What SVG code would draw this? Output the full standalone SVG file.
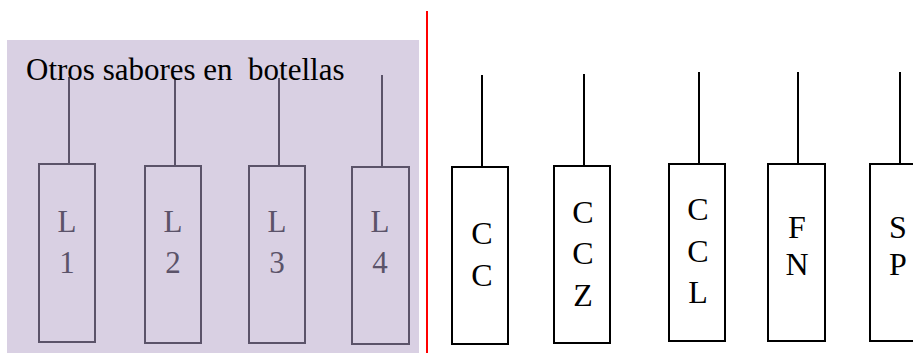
<svg xmlns="http://www.w3.org/2000/svg" width="913" height="353" viewBox="0 0 913 353">
<style>
.bg{fill:#d9d0e3;stroke:none}
.lbox{fill:none;stroke:#5b5369;stroke-width:2}
.rbox{fill:#ffffff;stroke:#000000;stroke-width:2}
.lline{stroke:#5b5369;stroke-width:2;fill:none}
.rline{stroke:#000000;stroke-width:2;fill:none}
.lt{font-family:"Liberation Serif","Times New Roman",serif;font-size:31px;fill:#5b5369;text-anchor:middle}
.rt{font-family:"Liberation Serif","Times New Roman",serif;font-size:32px;fill:#000000;text-anchor:middle}
.title{font-family:"Liberation Serif","Times New Roman",serif;font-size:31px;fill:#000000;white-space:pre}
</style>
<rect width="913" height="353" fill="#ffffff"/>
<rect id="panel" class="bg" x="7" y="40" width="412" height="313"/>
<line id="divider" x1="427" y1="11" x2="427" y2="353" stroke="#ff0000" stroke-width="2"/>
<g id="connectors">
<line class="lline" x1="69" y1="77" x2="69" y2="164"/>
<line class="lline" x1="175" y1="78" x2="175" y2="166"/>
<line class="lline" x1="279" y1="78" x2="279" y2="166"/>
<line class="lline" x1="382" y1="75" x2="382" y2="167"/>
<line class="rline" x1="482" y1="75" x2="482" y2="167"/>
<line class="rline" x1="584" y1="74" x2="584" y2="166"/>
<line class="rline" x1="699" y1="72" x2="699" y2="164"/>
<line class="rline" x1="798" y1="72" x2="798" y2="164"/>
<line class="rline" x1="900" y1="72" x2="900" y2="164"/>
</g>
<text id="title" class="title" x="26" y="80" xml:space="preserve">Otros sabores en  botellas</text>
<g id="L1"><rect class="lbox" x="39" y="164" width="56" height="178"/><text class="lt" x="67" y="232">L</text><text class="lt" x="67" y="273">1</text></g>
<g id="L2"><rect class="lbox" x="145" y="166" width="56" height="177"/><text class="lt" x="173" y="232">L</text><text class="lt" x="173" y="273">2</text></g>
<g id="L3"><rect class="lbox" x="249" y="166" width="56" height="177"/><text class="lt" x="277" y="232">L</text><text class="lt" x="277" y="273">3</text></g>
<g id="L4"><rect class="lbox" x="352" y="167" width="57" height="177"/><text class="lt" x="380" y="232">L</text><text class="lt" x="380" y="273">4</text></g>
<g id="CC"><rect class="rbox" x="452" y="167" width="56" height="177"/><text class="rt" x="482" y="244">C</text><text class="rt" x="482" y="286">C</text></g>
<g id="CCZ"><rect class="rbox" x="554" y="166" width="56" height="177"/><text class="rt" x="583" y="223">C</text><text class="rt" x="583" y="264">C</text><text class="rt" x="583" y="306">Z</text></g>
<g id="CCL"><rect class="rbox" x="669" y="164" width="56" height="177"/><text class="rt" x="698" y="220">C</text><text class="rt" x="698" y="262">C</text><text class="rt" x="698" y="303">L</text></g>
<g id="FN"><rect class="rbox" x="768" y="164" width="57" height="177"/><text class="rt" x="797" y="238">F</text><text class="rt" x="797" y="275">N</text></g>
<g id="SP"><rect class="rbox" x="870" y="164" width="60" height="177"/><text class="rt" x="898" y="238">S</text><text class="rt" x="898" y="275">P</text></g>
</svg>
